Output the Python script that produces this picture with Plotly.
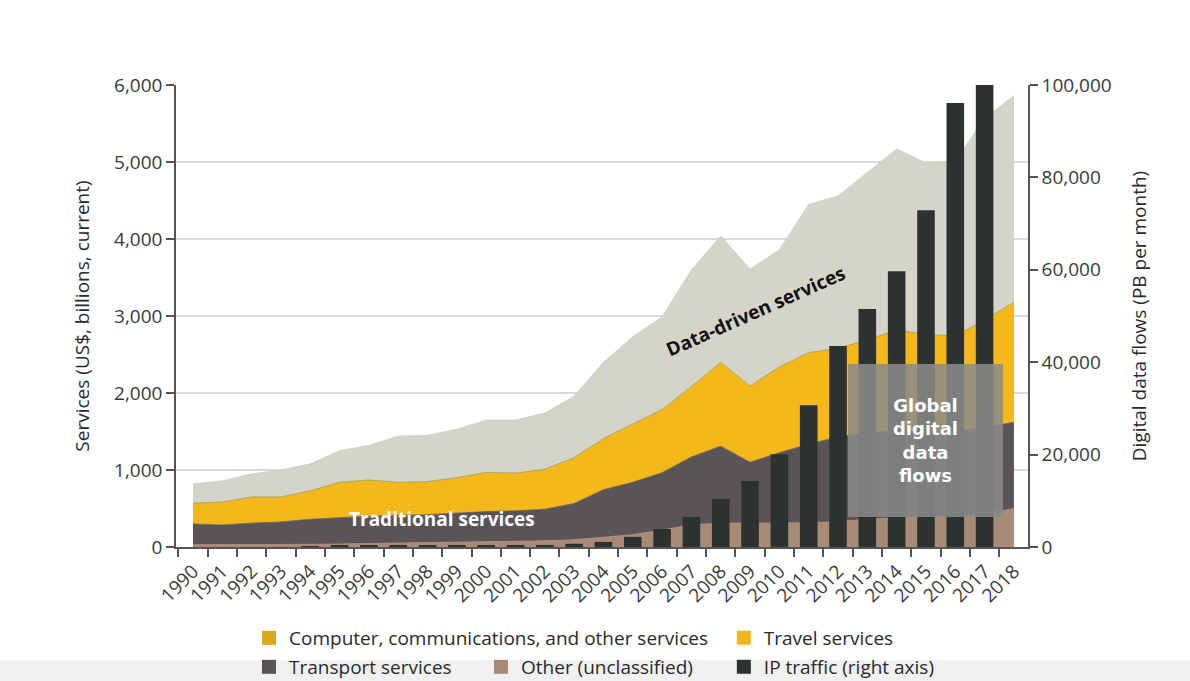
import plotly.graph_objects as go

# ---- data -------------------------------------------------------------
years = [str(y) for y in range(1990, 2019)]

# Stacked service categories, US$ billions (current)
other_unclassified = [30, 30, 35, 35, 35, 40, 45, 50, 55, 60,
                      65, 70, 80, 95, 125, 160, 220, 290, 310, 310,
                      310, 315, 330, 360, 380, 390, 400, 430, 500]
transport = [270, 255, 275, 290, 325, 340, 355, 360, 365, 380,
             395, 400, 410, 470, 620, 680, 745, 880, 1000, 790,
             915, 1020, 1100, 1120, 1130, 1120, 1110, 1120, 1120]
travel = [270, 300, 340, 325, 370, 460, 470, 430, 430, 460,
          510, 490, 520, 595, 665, 755, 820, 915, 1090, 990,
          1115, 1190, 1150, 1210, 1310, 1250, 1230, 1400, 1560]
computer_comm = [250, 275, 300, 350, 350, 410, 450, 600, 600, 630,
                 680, 690, 730, 800, 990, 1135, 1205, 1515, 1640, 1520,
                 1520, 1925, 1980, 2180, 2350, 2230, 2270, 2620, 2680]

# IP traffic, PB per month (right axis)
ip_traffic = [0, 0, 0, 0, 50, 300, 300, 300, 300, 350,
              350, 350, 450, 700, 1100, 2200, 3900, 6500, 10400, 14300,
              20100, 30700, 43500, 51500, 59700, 72900, 96100, 100000, None]

left_ticks = [0, 1000, 2000, 3000, 4000, 5000, 6000]
right_ticks = [0, 20000, 40000, 60000, 80000, 100000]

# ---- styling ----------------------------------------------------------
FONT = "Open Sans"
C_OTHER = "#a88b76"
C_TRANSPORT = "#5a5458"
C_TRAVEL = "#f4b81a"
C_COMPUTER = "#d5d4c9"
C_IP = "#2c3232"
C_LEG_COMPUTER = "#dca91c"
C_LEG_TRAVEL = "#f2b41c"

fig = go.Figure()

# stacked areas on the left axis (each line sits on the top edge of its band)
for name, vals, fill, edge in [
    ("Other (unclassified)", other_unclassified, C_OTHER, "#b88878"),
    ("Transport services", transport, C_TRANSPORT, "#5a5458"),
    ("Travel services", travel, C_TRAVEL, "#9c9a5c"),
    ("Computer, communications, and other services", computer_comm, C_COMPUTER, "#d0cfc4"),
]:
    fig.add_trace(go.Scatter(
        x=years, y=vals, name=name, mode="lines", stackgroup="svc",
        line=dict(width=0.8, color=edge), fillcolor=fill,
        showlegend=False, hoverinfo="x+y+name",
    ))

# IP traffic bars on the right axis
fig.add_trace(go.Bar(
    x=years, y=ip_traffic, name="IP traffic (right axis)", yaxis="y2",
    marker=dict(color=C_IP, line=dict(width=0)), showlegend=False,
))

# legend entries: one small legend per entry, laid out in two rows
legend_items = [
    ("Computer, communications, and other services", C_LEG_COMPUTER, "legend", 0.0857, -0.197),
    ("Travel services", C_LEG_TRAVEL, "legend2", 0.643, -0.197),
    ("Transport services", C_TRANSPORT, "legend3", 0.0857, -0.2597),
    ("Other (unclassified)", C_OTHER, "legend4", 0.358, -0.2597),
    ("IP traffic (right axis)", C_IP, "legend5", 0.643, -0.2597),
]
legend_font = dict(family=FONT, size=19, color="#2a2a2a")
legend_layouts = {}
for name, col, leg, lx, ly in legend_items:
    fig.add_trace(go.Scatter(
        x=[None], y=[None], mode="markers", name=name, legend=leg,
        marker=dict(symbol="square", size=14, color=col),
    ))
    legend_layouts[leg] = dict(
        orientation="h", x=lx, xanchor="left", y=ly, yanchor="middle",
        font=legend_font, bgcolor="rgba(0,0,0,0)", borderwidth=0,
    )

tick_font = dict(family=FONT, size=19, color="#3a3a3a")

fig.update_layout(
    width=1190, height=681,
    margin=dict(l=176, r=162, t=85, b=134, autoexpand=False),
    paper_bgcolor="white", plot_bgcolor="white",
    barmode="overlay", bargap=0.4,
    xaxis=dict(
        type="category", range=[-0.58, 28.48],
        tickson="boundaries", ticks="outside", ticklen=8,
        tickcolor="#555555", tickwidth=1.5,
        tickangle=-45, ticklabelstandoff=4,
        tickfont=dict(family=FONT, size=19, color="#3a3a3a"),
        showline=True, linecolor="#555555", linewidth=1.5,
        showgrid=False, zeroline=False,
    ),
    yaxis=dict(
        range=[0, 6000], tickvals=left_ticks, tickformat=",",
        ticks="outside", ticklen=8, tickcolor="#555555", tickwidth=1.5,
        tickfont=tick_font,
        showline=True, linecolor="#555555", linewidth=1.5,
        showgrid=True, gridcolor="#d9d9d9", gridwidth=1.5, zeroline=False,
        title=dict(text="Services (US$, billions, current)",
                   font=dict(family=FONT, size=19, color="#2a2a2a"), standoff=19),
    ),
    yaxis2=dict(
        overlaying="y", side="right", range=[0, 100000],
        tickvals=right_ticks, tickformat=",",
        ticks="outside", ticklen=8, tickcolor="#555555", tickwidth=1.5,
        tickfont=tick_font,
        showline=True, linecolor="#555555", linewidth=1.5,
        showgrid=False, zeroline=False,
        title=dict(text="Digital data flows (PB per month)",
                   font=dict(family=FONT, size=19, color="#2a2a2a"), standoff=22),
    ),
    shapes=[dict(
        type="rect", xref="paper", yref="paper", layer="below",
        x0=-176 / 852, x1=1014 / 852, y0=-140 / 462, y1=-113 / 462,
        fillcolor="#f1f1f1", line=dict(width=0),
    )],
    annotations=[
        dict(text="<b>Traditional services</b>", x=8.5, y=360, xref="x", yref="y",
             showarrow=False, font=dict(family=FONT, size=19, color="white")),
        dict(text="<b>Data-driven services</b>", x=19.2, y=3060, xref="x", yref="y",
             showarrow=False, textangle=-24,
             font=dict(family=FONT, size=19, color="#111111")),
        dict(text="<b>Global<br>digital<br>data<br>flows</b>", x=25.0, y=1383,
             xref="x", yref="y", showarrow=False,
             width=155, height=153, borderpad=0, borderwidth=0,
             bgcolor="rgba(138,138,138,0.86)",
             font=dict(family="DejaVu Sans", size=18, color="white")),
    ],
    **legend_layouts,
)

fig.write_html("out.html")
